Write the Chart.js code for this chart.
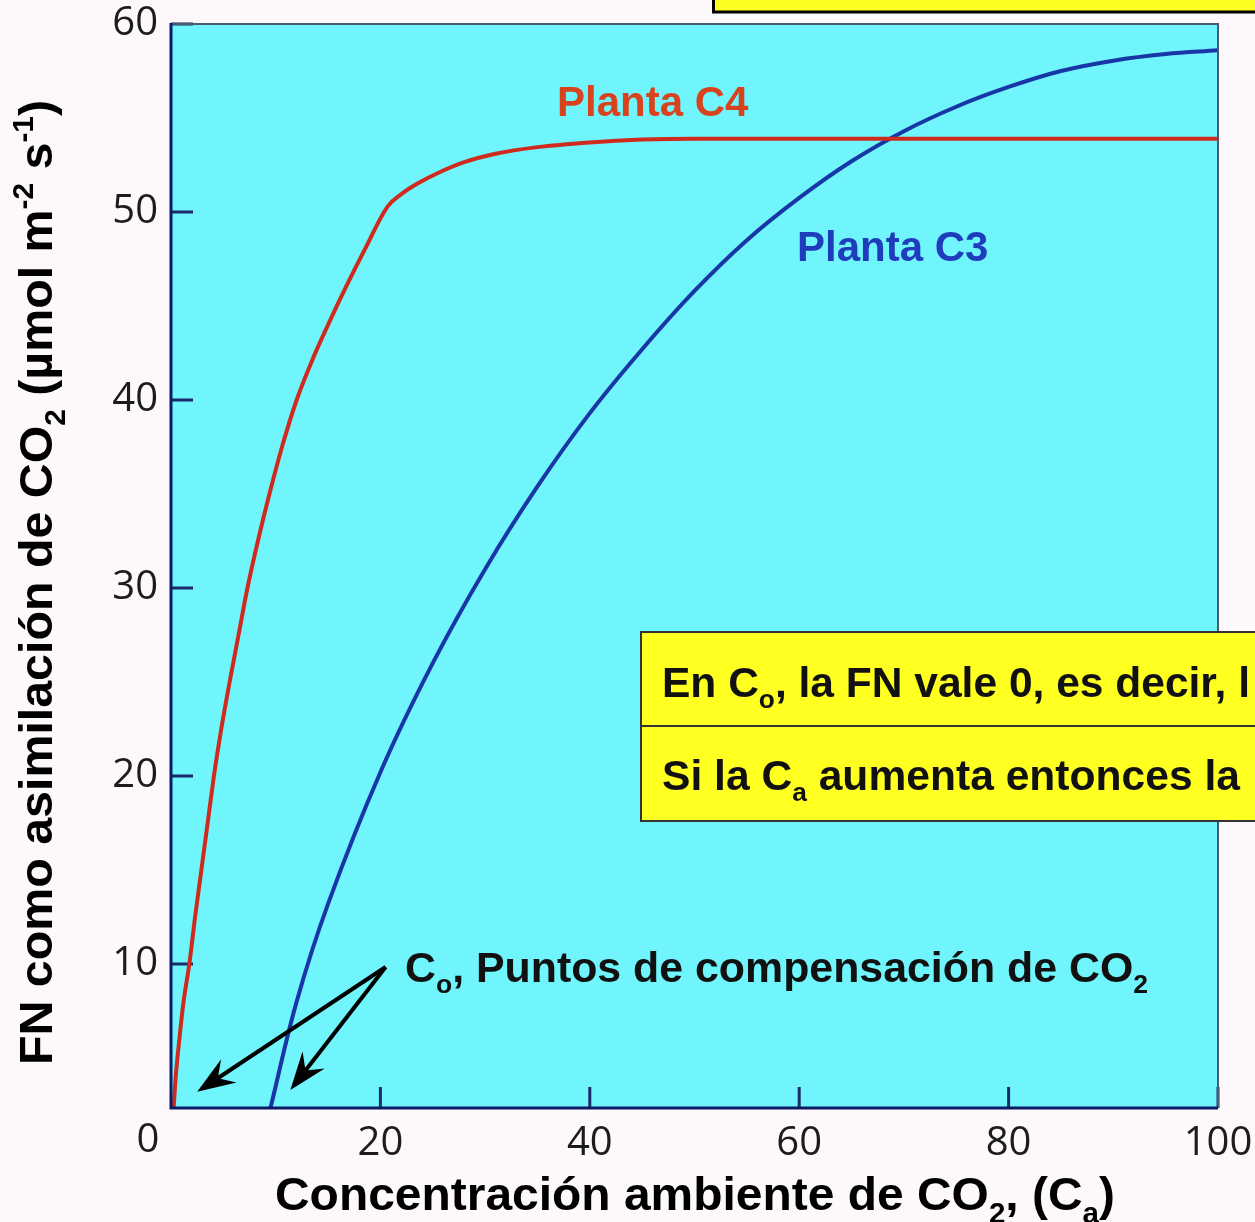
<!DOCTYPE html>
<html>
<head>
<meta charset="utf-8">
<script src="https://cdn.jsdelivr.net/npm/chart.js@4.4.1/dist/chart.umd.min.js"></script>
<style>
  html, body { margin: 0; padding: 0; background: #fcf8fc; }
  #wrap { width: 1255px; height: 1222px; position: relative; }
</style>
</head>
<body>
<div id="wrap"><canvas id="chart"></canvas></div>
<script>
(function () {
    "use strict";

    // values
    const c4X = [0.25, 0.45, 0.8, 1.2, 1.75, 2.3, 2.9, 3.5, 4.1, 4.8, 5.6, 6.45, 7.3, 8.3, 9.4, 10.6, 12.0, 13.4, 15.0, 16.7, 18.5, 20.7, 22.0, 23.5, 25.4, 28.0, 31.0, 35, 40, 45, 50, 60, 70, 80, 90, 100];
    const c4Y = [2.34, 4, 6, 8, 10, 12.5, 15, 17.5, 20, 22.5, 25, 27.5, 30, 32.5, 35, 37.5, 40, 42, 44, 46, 48, 50.3, 50.95, 51.5, 52.05, 52.65, 53.1, 53.45, 53.7, 53.85, 53.9, 53.9, 53.9, 53.9, 53.9, 53.9];
    const c3X = [9.5, 12, 15, 20, 25, 30, 35, 40, 45, 50, 55, 60, 65, 70, 75, 80, 85, 90, 95, 100];
    const c3Y = [2.34, 8.0, 13.2, 20.2, 26.0, 31.0, 35.4, 39.3, 42.7, 45.8, 48.5, 50.75, 52.7, 54.3, 55.6, 56.65, 57.5, 58.05, 58.4, 58.6];
    const xTicks = [0, 20, 40, 60, 80, 100];
    const yTicks = [10, 20, 30, 40, 50, 60];
    const yMin = 2.34;

    const toPts = (xs, ys) => xs.map((x, i) => ({ x: x, y: ys[i] }));

    const BOLD = "bold {s}px 'Liberation Sans', Arial, sans-serif";
    const font = (s) => BOLD.replace("{s}", s);

    // text with sub/superscripts: parts = [[text, "n"|"sub"|"sup"], ...]
    function richWidth(ctx, parts, size) {
        let w = 0;
        parts.forEach(([t, k]) => {
            ctx.font = font(k === "n" ? size : Math.round(size * 0.62));
            w += ctx.measureText(t).width;
        });
        return w;
    }
    function drawRich(ctx, parts, x, y, size, color, targetW) {
        const w = richWidth(ctx, parts, size);
        const sx = targetW ? targetW / w : 1;
        ctx.save();
        ctx.translate(x, y);
        ctx.scale(sx, 1);
        ctx.fillStyle = color;
        ctx.textBaseline = "alphabetic";
        ctx.textAlign = "left";
        let cx = 0;
        parts.forEach(([t, k]) => {
            const s = k === "n" ? size : Math.round(size * 0.62);
            ctx.font = font(s);
            const dy = k === "sub" ? size * 0.27 : k === "sup" ? -size * 0.4 : 0;
            ctx.fillText(t, cx, dy);
            cx += ctx.measureText(t).width;
        });
        ctx.restore();
    }

    function arrow(ctx, x0, y0, x1, y1) {
        const a = Math.atan2(y1 - y0, x1 - x0);
        const c = Math.cos(a), s = Math.sin(a);
        const len = 38, half = 14;
        ctx.save();
        ctx.strokeStyle = "#000";
        ctx.fillStyle = "#000";
        ctx.lineWidth = 4;
        ctx.beginPath();
        ctx.moveTo(x0, y0);
        ctx.lineTo(x1 - c * len * 0.6, y1 - s * len * 0.6);
        ctx.stroke();
        ctx.beginPath();
        ctx.moveTo(x1, y1);
        ctx.lineTo(x1 - c * len - s * half, y1 - s * len + c * half);
        ctx.lineTo(x1 - c * len * 0.65, y1 - s * len * 0.65);
        ctx.lineTo(x1 - c * len + s * half, y1 - s * len - c * half);
        ctx.closePath();
        ctx.fill();
        ctx.restore();
    }

    const decor = {
        id: "decor",
        beforeDraw(chart) {
            const { ctx, chartArea: a } = chart;
            ctx.save();
            ctx.fillStyle = "#fcf8fc";
            ctx.fillRect(0, 0, chart.width, chart.height);
            ctx.fillStyle = "#6ff5fb";
            ctx.fillRect(a.left, a.top, a.right - a.left, a.bottom - a.top);
            ctx.restore();
        },
        beforeDatasetsDraw(chart) {
            const { ctx, chartArea: a, scales } = chart;
            ctx.save();
            ctx.strokeStyle = "#1b2a6a";
            ctx.lineWidth = 3;
            ctx.beginPath();
            yTicks.forEach((v) => {
                const py = scales.y.getPixelForValue(v);
                ctx.moveTo(a.left, py);
                ctx.lineTo(a.left + 22, py);
            });
            xTicks.slice(1).forEach((v) => {
                const px = scales.x.getPixelForValue(v);
                ctx.moveTo(px, a.bottom);
                ctx.lineTo(px, a.bottom - 21);
            });
            ctx.stroke();
            ctx.restore();
        },
        afterDatasetsDraw(chart) {
            const { ctx, chartArea: a, scales } = chart;
            const X = (v) => scales.x.getPixelForValue(v);
            const Y = (v) => scales.y.getPixelForValue(v);
            ctx.save();
            // frame
            ctx.lineWidth = 2;
            ctx.strokeStyle = "#4a5a70";
            ctx.beginPath();
            ctx.moveTo(a.left, a.top);
            ctx.lineTo(a.right, a.top);
            ctx.lineTo(a.right, a.bottom);
            ctx.stroke();
            ctx.lineWidth = 3;
            ctx.strokeStyle = "#0c1b66";
            ctx.beginPath();
            ctx.moveTo(a.left, a.top - 1);
            ctx.lineTo(a.left, a.bottom);
            ctx.lineTo(a.right, a.bottom);
            ctx.stroke();

            // origin label
            ctx.font = "40px 'Open Sans', sans-serif";
            ctx.fillStyle = "#1c1c1c";
            ctx.textAlign = "center";
            ctx.textBaseline = "middle";
            ctx.fillText("0", X(0) - 23, a.bottom + 33);

            // series labels
            drawRich(ctx, [["Planta C4", "n"]], 557, 116, 42, "#d8431e");
            drawRich(ctx, [["Planta C3", "n"]], 797, 261, 42, "#1f3cbc");

            // top box (cut off)
            ctx.fillStyle = "#fdfd22";
            ctx.strokeStyle = "#000";
            ctx.lineWidth = 3;
            ctx.fillRect(713, -10, 560, 22);
            ctx.strokeRect(713.5, -10, 560, 22);

            // info box
            ctx.fillStyle = "#ffff22";
            ctx.fillRect(640, 632, 640, 189);
            ctx.strokeStyle = "#333";
            ctx.lineWidth = 2;
            ctx.strokeRect(641, 632, 640, 189);
            ctx.beginPath();
            ctx.moveTo(641, 726);
            ctx.lineTo(1260, 726);
            ctx.stroke();
            drawRich(ctx, [["En C", "n"], ["o", "sub"], [", la FN vale 0, es decir, l", "n"]], 662, 697, 42, "#111", 588);
            drawRich(ctx, [["Si la C", "n"], ["a", "sub"], [" aumenta entonces la", "n"]], 662, 790, 42, "#111", 578);

            // compensation points
            drawRich(ctx, [["C", "n"], ["o", "sub"], [", Puntos de compensación de CO", "n"], ["2", "sub"]], 405, 982, 42, "#111", 743);
            arrow(ctx, X(20.5), Y(9.84), X(2.5), Y(3.2));
            arrow(ctx, X(20.5), Y(9.84), X(11.4), Y(3.3));

            // axis titles
            drawRich(ctx, [["Concentración ambiente de CO", "n"], ["2", "sub"], [", (C", "n"], ["a", "sub"], [")", "n"]], 275, 1210, 47, "#000", 840);
            ctx.save();
            ctx.translate(52, 1065);
            ctx.rotate(-Math.PI / 2);
            drawRich(ctx, [["FN como asimilación de CO", "n"], ["2", "sub"], [" (\u00b5mol m", "n"], ["-2", "sup"], [" s", "n"], ["-1", "sup"], [")", "n"]], 0, 0, 47, "#000", 965);
            ctx.restore();
            ctx.restore();
        }
    };

    // keep the plot frame where the picture has it
    const noAutoPad = (s) => {
        s.paddingLeft = 0;
        s.paddingRight = 0;
        s.paddingTop = 0;
        s.paddingBottom = 0;
    };

    new Chart(document.getElementById("chart"), {
        type: "scatter",
        data: {
            datasets: [
                {
                    label: "Planta C4",
                    data: toPts(c4X, c4Y),
                    showLine: true,
                    borderColor: "#d02a1e",
                    borderWidth: 4,
                    pointRadius: 0,
                    cubicInterpolationMode: "monotone",
                },
                {
                    label: "Planta C3",
                    data: toPts(c3X, c3Y),
                    showLine: true,
                    borderColor: "#1836a6",
                    borderWidth: 4,
                    pointRadius: 0,
                    tension: 0.4,
                },
            ],
        },
        options: {
            responsive: true,
            maintainAspectRatio: false,
            animation: false,
            layout: { padding: { top: 24, right: 37, left: 0, bottom: 0 } },
            plugins: { legend: { display: false }, tooltip: { enabled: false } },
            scales: {
                x: {
                    type: "linear",
                    min: 0,
                    max: 100,
                    afterBuildTicks: (s) => { s.ticks = xTicks.map((v) => ({ value: v })); },
                    afterFit: (s) => { s.height = 114; noAutoPad(s); },
                    grid: { display: false, drawTicks: false },
                    border: { display: false },
                    ticks: {
                        padding: 12,
                        color: "#1c1c1c",
                        font: { family: "'Open Sans', sans-serif", size: 40 },
                        callback: (v) => (v === 0 ? "" : String(v)),
                    },
                },
                y: {
                    type: "linear",
                    min: yMin,
                    max: 60,
                    afterBuildTicks: (s) => { s.ticks = yTicks.map((v) => ({ value: v })); },
                    afterFit: (s) => { s.width = 171; noAutoPad(s); },
                    grid: { display: false, drawTicks: false },
                    border: { display: false },
                    ticks: {
                        padding: 13,
                        color: "#1c1c1c",
                        font: { family: "'Open Sans', sans-serif", size: 40 },
                    },
                },
            },
        },
        plugins: [decor],
    });
})();
</script>
</body>
</html>
